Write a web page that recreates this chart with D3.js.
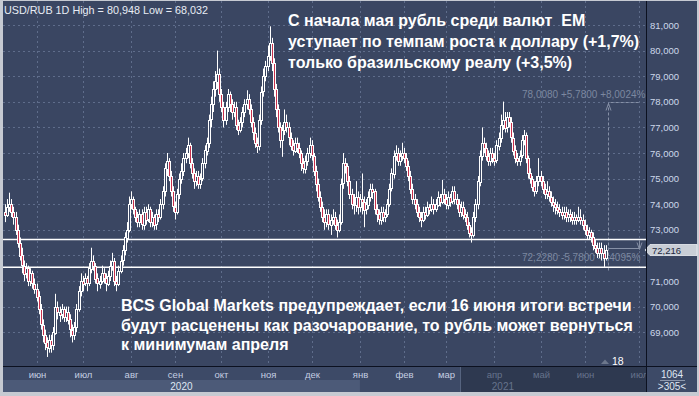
<!DOCTYPE html>
<html>
<head>
<meta charset="utf-8">
<script src="https://cdn.jsdelivr.net/npm/d3@7/dist/d3.min.js"></script>
<style>
  body { margin: 0; background: #c6cad2; }
  svg { display: block; font-family: "Liberation Sans", Arial, sans-serif; }
  text { white-space: pre; }
</style>
</head>
<body>
<div id="chart"></div>
<script>
// дневные бары USD/RUB, первый бар — 11 мая 2020, только будни
var startDate = new Date(2020, 4, 11);

var opens = [73.7,73.6,73.9,74.0,73.7,73.5,73.0,72.5,72.0,71.6,
  71.3,71.5,71.0,71.3,70.9,70.7,70.4,69.9,69.3,68.9,
  68.6,68.4,68.7,68.5,69.0,70.0,69.8,69.7,69.9,69.6,
  69.8,69.5,69.1,68.9,69.2,69.9,70.6,71.0,70.9,71.1,
  70.9,71.5,71.8,71.6,71.1,70.9,71.0,71.3,71.1,70.9,
  71.2,71.6,71.8,71.0,70.9,71.4,71.8,72.2,72.7,73.0,
  74.0,74.2,73.8,73.5,73.3,73.6,73.2,73.7,73.4,73.8,
  73.3,73.5,73.2,73.6,73.5,74.0,74.5,75.4,75.7,75.1,
  74.5,73.9,73.7,74.4,75.0,75.3,75.8,76.0,76.3,75.6,
  75.2,74.9,75.1,74.8,75.0,75.6,76.1,76.4,77.3,77.9,
  78.5,78.8,79.1,78.3,77.8,77.3,77.8,78.3,77.9,77.6,
  77.8,77.1,76.9,77.2,77.6,77.9,78.1,77.7,77.2,76.8,
  76.4,76.3,77.3,78.4,79.0,79.4,79.8,80.3,79.5,78.5,
  77.7,77.0,76.5,76.9,77.2,77.0,76.6,76.3,76.1,76.4,
  76.2,76.0,75.6,75.4,75.7,76.0,76.3,75.9,75.3,74.8,
  74.3,73.9,73.5,73.3,73.6,73.2,73.4,73.5,73.2,73.0,
  73.3,74.8,75.6,75.5,74.9,74.4,74.0,74.0,74.3,73.9,
  74.2,74.1,73.8,74.0,74.3,74.6,74.5,73.8,73.6,73.4,
  73.7,73.5,73.6,74.0,74.6,75.2,75.9,76.0,75.7,75.9,
  76.0,75.8,75.5,75.1,74.6,74.2,74.0,73.7,73.5,73.4,
  73.7,73.6,73.9,73.8,74.0,73.8,74.0,74.3,74.1,74.4,
  74.2,74.0,74.3,74.1,74.5,74.2,74.0,73.7,73.9,73.6,
  73.5,73.2,72.9,72.8,73.5,74.0,74.9,75.9,76.4,76.2,
  75.9,75.7,76.0,75.8,75.7,76.3,76.6,77.1,77.3,77.0,
  77.4,77.2,76.6,76.1,75.8,75.7,75.9,76.5,76.7,75.8,
  75.2,75.0,74.7,74.5,74.9,75.1,74.9,74.6,74.4,74.5,
  74.3,74.1,74.0,73.9,73.8,73.7,73.6,73.7,73.5,73.6,
  73.5,73.4,73.5,73.4,73.5,73.4,73.2,73.0,72.8,72.9,
  72.7,72.4,72.3,72.1,72.3,72.1,71.9];

var highs = [74.0,74.2,74.45,74.2,73.9,73.7,73.2,72.7,72.3,71.8,
  71.7,71.6,71.5,71.4,71.1,70.9,70.6,70.1,69.5,69.1,
  68.8,68.9,68.9,69.2,70.5,70.2,70.0,70.1,70.0,70.0,
  70.0,69.7,69.3,69.4,70.1,70.8,71.3,71.2,71.3,71.2,
  71.7,72.3,72.0,71.7,71.3,71.2,71.6,71.5,71.3,71.4,
  71.8,72.1,71.9,71.2,71.6,72.0,72.4,72.9,73.3,74.3,
  74.5,74.3,73.9,73.7,73.8,73.8,73.9,73.9,74.0,73.9,
  73.7,73.6,73.8,73.8,74.2,74.7,75.6,76.0,75.8,75.3,
  74.7,74.1,74.6,75.2,75.6,76.0,76.2,76.6,76.4,75.8,
  75.4,75.3,75.3,75.2,75.8,76.3,76.6,77.5,78.2,78.8,
  79.2,80.0,79.3,78.5,78.0,78.0,78.5,78.4,78.1,78.0,
  78.0,77.3,77.4,77.8,78.1,78.45,78.3,77.9,77.4,77.0,
  76.6,77.5,78.6,79.3,79.6,80.2,80.948,80.5,79.7,78.7,
  77.9,77.2,77.1,77.7,77.5,77.2,76.8,76.5,76.6,76.6,
  76.4,76.1,75.8,75.9,76.2,76.6,76.5,76.0,75.5,75.0,
  74.5,74.1,73.8,73.8,73.8,73.6,73.8,73.7,73.4,73.6,
  75.0,76.0,75.8,75.6,75.1,74.6,74.4,74.9,74.5,74.4,
  75.2,74.3,74.2,74.5,74.8,74.8,74.6,74.0,73.8,73.9,
  73.9,73.8,74.2,74.8,75.4,76.1,76.3,76.2,76.1,76.4,
  76.2,76.0,75.7,75.3,74.8,74.4,74.2,73.9,73.7,73.9,
  73.9,74.1,74.0,74.3,74.2,74.2,74.5,74.4,74.95,74.6,
  74.4,74.5,74.4,74.7,74.7,74.4,74.2,74.1,74.1,73.8,
  73.7,73.3,73.1,73.7,74.2,75.1,76.1,77.0,76.6,76.4,
  76.1,76.2,76.2,76.0,76.5,76.8,77.5,78.008,77.6,77.6,
  77.6,77.4,76.8,76.3,76.0,76.1,76.7,76.9,76.8,75.9,
  75.4,75.1,74.9,75.1,75.8,75.3,75.1,74.8,74.9,74.7,
  74.5,74.3,74.2,74.1,74.0,73.9,73.9,73.9,73.8,73.8,
  73.7,73.7,73.6,73.9,73.8,73.6,73.4,73.2,73.1,73.0,
  72.9,72.6,72.5,72.5,72.5,72.4,72.4];

var lows = [73.3,73.5,73.7,73.5,73.2,72.8,72.3,71.8,71.3,71.0,
  71.1,70.8,70.8,70.7,70.5,70.2,69.7,69.1,68.6,68.3,
  68.032,68.2,68.2,68.3,68.9,69.5,69.4,69.5,69.4,69.4,
  69.3,68.8,68.6,68.7,69.0,69.8,70.4,70.6,70.8,70.6,
  70.8,71.3,71.4,70.9,70.6,70.7,70.9,70.9,70.6,70.8,
  71.0,71.4,70.8,70.6,70.8,71.3,71.6,72.0,72.5,72.9,
  73.8,73.6,73.3,73.1,73.1,73.0,73.0,73.2,73.3,73.1,
  73.1,73.0,73.0,73.3,73.4,73.8,74.3,75.1,74.9,74.3,
  73.7,73.4,73.6,74.2,74.8,75.1,75.6,75.8,75.4,75.0,
  74.6,74.7,74.6,74.6,74.9,75.4,75.9,76.2,77.0,77.6,
  78.2,78.5,78.0,77.6,77.0,77.1,77.6,77.6,77.3,77.4,
  76.9,76.7,76.8,77.0,77.4,77.7,77.5,77.0,76.5,76.2,
  76.0,76.1,77.1,78.2,78.8,79.2,79.6,79.2,78.2,77.4,
  76.8,76.2,75.85,76.7,76.8,76.3,76.1,75.9,76.0,76.0,
  75.8,75.3,75.2,75.2,75.5,75.8,75.7,75.1,74.5,74.1,
  73.7,73.3,73.0,73.1,73.0,72.8,73.2,73.0,72.7,72.9,
  73.2,74.6,75.2,74.7,74.2,73.8,73.6,73.7,73.6,73.7,
  73.6,73.1,73.6,73.8,74.1,74.2,73.6,73.3,73.2,73.2,
  73.3,73.3,73.5,73.9,74.5,75.0,75.7,75.5,75.5,75.7,
  75.6,75.3,74.9,74.4,74.0,73.8,73.5,73.3,73.1,73.3,
  73.4,73.5,73.6,73.7,73.6,73.7,73.9,73.9,74.0,74.0,
  73.8,73.8,73.9,74.0,74.0,73.8,73.5,73.5,73.4,73.3,
  73.0,72.7,72.5,72.7,73.3,73.8,74.7,75.7,76.0,75.7,
  75.5,75.5,75.6,75.5,75.6,76.1,76.4,76.9,76.8,76.8,
  77.0,76.4,75.9,75.6,75.5,75.5,75.8,76.3,75.6,75.0,
  74.8,74.5,74.3,74.4,74.7,74.7,74.4,74.2,74.2,74.1,
  73.9,73.7,73.6,73.6,73.5,73.4,73.4,73.3,73.3,73.3,
  73.2,73.2,73.2,73.3,73.2,73.0,72.8,72.6,72.6,72.5,
  72.2,72.1,71.9,71.9,71.8,71.55,71.8];

var closes = [73.6,73.9,74.0,73.7,73.5,73.0,72.5,72.0,71.6,71.3,
  71.5,71.0,71.3,70.9,70.7,70.4,69.9,69.3,68.9,68.6,
  68.4,68.7,68.5,69.0,70.0,69.8,69.7,69.9,69.6,69.8,
  69.5,69.1,68.9,69.2,69.9,70.6,71.0,70.9,71.1,70.9,
  71.5,71.8,71.6,71.1,70.9,71.0,71.3,71.1,70.9,71.2,
  71.6,71.8,71.0,70.9,71.4,71.8,72.2,72.7,73.0,74.0,
  74.2,73.8,73.5,73.3,73.6,73.2,73.7,73.4,73.8,73.3,
  73.5,73.2,73.6,73.5,74.0,74.5,75.4,75.7,75.1,74.5,
  73.9,73.7,74.4,75.0,75.3,75.8,76.0,76.3,75.6,75.2,
  74.9,75.1,74.8,75.0,75.6,76.1,76.4,77.3,77.9,78.5,
  78.8,79.1,78.3,77.8,77.3,77.8,78.3,77.9,77.6,77.8,
  77.1,76.9,77.2,77.6,77.9,78.1,77.7,77.2,76.8,76.4,
  76.3,77.3,78.4,79.0,79.4,79.8,80.3,79.5,78.5,77.7,
  77.0,76.5,76.9,77.2,77.0,76.6,76.3,76.1,76.4,76.2,
  76.0,75.6,75.4,75.7,76.0,76.3,75.9,75.3,74.8,74.3,
  73.9,73.5,73.3,73.6,73.2,73.4,73.5,73.2,73.0,73.3,
  74.8,75.6,75.5,74.9,74.4,74.0,74.0,74.3,73.9,74.2,
  74.1,73.8,74.0,74.3,74.6,74.5,73.8,73.6,73.4,73.7,
  73.5,73.6,74.0,74.6,75.2,75.9,76.0,75.7,75.9,76.0,
  75.8,75.5,75.1,74.6,74.2,74.0,73.7,73.5,73.4,73.7,
  73.6,73.9,73.8,74.0,73.8,74.0,74.3,74.1,74.4,74.2,
  74.0,74.3,74.1,74.5,74.2,74.0,73.7,73.9,73.6,73.5,
  73.2,72.9,72.8,73.5,74.0,74.9,75.9,76.4,76.2,75.9,
  75.7,76.0,75.8,75.7,76.3,76.6,77.1,77.3,77.0,77.4,
  77.2,76.6,76.1,75.8,75.7,75.9,76.5,76.7,75.8,75.2,
  75.0,74.7,74.5,74.9,75.1,74.9,74.6,74.4,74.5,74.3,
  74.1,74.0,73.9,73.8,73.7,73.6,73.7,73.5,73.6,73.5,
  73.4,73.5,73.4,73.5,73.4,73.2,73.0,72.8,72.9,72.7,
  72.4,72.3,72.1,72.3,72.1,71.9,72.216];

var yTicks = [69, 70, 71, 72, 73, 74, 75, 76, 77, 78, 79, 80, 81];
var monthNames = ['янв','фев','мар','апр','май','июн','июл','авг','сен','окт','ноя','дек'];
var monthStarts = ['2020-06-01','2020-07-01','2020-08-01','2020-09-01','2020-10-01','2020-11-01','2020-12-01',
  '2021-01-01','2021-02-01','2021-03-01','2021-04-01','2021-05-01','2021-06-01','2021-07-01'];
var yearLabels = ['2020', '2021'];
var supportLevels = [72.62, 71.54];
var measure = { high: 78.008, low: 72.228 };
var measureTexts = ['78,0080 +5,7800 +8,0024%', '72,2280 -5,7800 -7,4095%'];
var lastPrice = 72.216;
var titleText = 'USD/RUB 1D High = 80,948 Low = 68,032';
var topNote = ['С начала мая рубль среди валют  EM', 'уступает по темпам роста к доллару (+1,7%)', 'только бразильскому реалу (+3,5%)'];
var bottomNote = ['BCS Global Markets предупреждает, если 16 июня итоги встречи', 'будут расценены как разочарование, то рубль может вернуться', 'к минимумам апреля'];

var W = 699, H = 396;
var plotL = 3, plotT = 1, plotR = 646, plotB = 366;
var bg = '#3a4662';

// даты баров (будни)
var dates = [];
var dd = new Date(startDate);
while (dates.length < closes.length) {
  if (dd.getDay() % 6 !== 0) dates.push(new Date(dd));
  dd.setDate(dd.getDate() + 1);
}
var lastIdx = dates.length - 1;
function barIndex(date) {
  if (date > dates[lastIdx]) return lastIdx + d3.timeDay.count(dates[lastIdx], date);
  return d3.bisectLeft(dates, date);
}

var x = d3.scaleLinear().domain([0, 305]).range([5, 645.5]);
var y = d3.scaleLinear().domain([72, 81]).range([255.4, 25]);
var fmt = function (v) { return d3.format('.3f')(v).replace('.', ','); };

var svg = d3.select('#chart').append('svg')
  .attr('width', W)
  .attr('height', H);

svg.append('rect').attr('width', W).attr('height', H).attr('fill', '#c6cad2');
svg.append('rect').attr('x', 3).attr('y', 1).attr('width', 694).attr('height', 391).attr('fill', bg);

svg.append('clipPath').attr('id', 'clip')
  .append('rect').attr('x', plotL).attr('y', plotT).attr('width', plotR - plotL).attr('height', plotB - plotT);

var plot = svg.append('g').attr('clip-path', 'url(#clip)');

// сетка
plot.selectAll('line.hgrid')
  .data(yTicks)
  .enter()
  .append('line')
  .attr('x1', plotL).attr('x2', plotR)
  .attr('y1', function (d) { return Math.round(y(d)) + 0.5; })
  .attr('y2', function (d) { return Math.round(y(d)) + 0.5; })
  .attr('stroke', '#5f6d8b')
  .attr('stroke-dasharray', '2,3');

var months = monthStarts.map(function (s) {
  var p = s.split('-');
  var dt = new Date(+p[0], +p[1] - 1, 1);
  return { date: dt, name: monthNames[dt.getMonth()], px: Math.round(x(barIndex(dt))) + 0.5 };
});

plot.selectAll('line.vgrid')
  .data(months)
  .enter()
  .append('line')
  .attr('x1', function (d) { return d.px; }).attr('x2', function (d) { return d.px; })
  .attr('y1', plotT).attr('y2', plotB)
  .attr('stroke', '#5f6d8b')
  .attr('stroke-dasharray', '2,3');

// измерение
var mx1 = Math.round(x(lastIdx + 1)) + 0.5, mx2 = Math.round(x(lastIdx + 16)) + 0.5;
var mTop = Math.round(y(measure.high)) + 0.5, mBot = Math.round(y(measure.low)) + 0.5;
plot.append('path')
  .attr('d', 'M' + mx1 + ',' + (mBot + 20) + 'V' + mTop + 'H' + mx2)
  .attr('fill', 'none').attr('stroke', '#8690a6').attr('stroke-dasharray', '3,2');
plot.append('path')
  .attr('d', 'M' + (mx1 - 2.5) + ',' + (mTop + 8) + 'L' + mx1 + ',' + (mTop + 1) + 'L' + (mx1 + 2.5) + ',' + (mTop + 8))
  .attr('fill', 'none').attr('stroke', '#8690a6');
plot.append('path')
  .attr('d', 'M' + mx1 + ',' + (mBot - 2) + 'H' + mx2 + 'V' + (y(supportLevels[0]) + 1))
  .attr('fill', 'none').attr('stroke', '#8690a6');
plot.append('path')
  .attr('d', 'M' + (mx2 - 2.5) + ',' + (y(supportLevels[0]) + 3) + 'L' + mx2 + ',' + (y(supportLevels[0]) + 10) + 'L' + (mx2 + 2.5) + ',' + (y(supportLevels[0]) + 3))
  .attr('fill', 'none').attr('stroke', '#8690a6');
plot.selectAll('text.measure')
  .data(measureTexts)
  .enter()
  .append('text')
  .attr('x', 522)
  .attr('y', function (d, i) { return i === 0 ? mTop - 5 : mBot + 10; })
  .attr('font-size', 10)
  .attr('fill', '#7c88a0')
  .text(function (d) { return d; });

// уровни
plot.selectAll('line.level')
  .data(supportLevels)
  .enter()
  .append('line')
  .attr('x1', plotL).attr('x2', plotR)
  .attr('y1', function (d) { return y(d); })
  .attr('y2', function (d) { return y(d); })
  .attr('stroke', '#ffffff')
  .attr('stroke-width', 1.5);

// свечи
var bars = closes.map(function (c, i) {
  return { i: i, o: opens[i], h: highs[i], l: lows[i], c: c };
});
var candle = plot.selectAll('g.candle')
  .data(bars)
  .enter()
  .append('g');
candle.append('line')
  .attr('x1', function (d) { return Math.round(x(d.i)) + 0.5; })
  .attr('x2', function (d) { return Math.round(x(d.i)) + 0.5; })
  .attr('y1', function (d) { return y(d.h); })
  .attr('y2', function (d) { return y(d.l); })
  .attr('stroke', '#ffffff');
candle.append('rect')
  .attr('x', function (d) { return Math.round(x(d.i)) - 0.5; })
  .attr('width', 2)
  .attr('y', function (d) { return Math.round(y(Math.max(d.o, d.c))) + 0.5; })
  .attr('height', function (d) { return Math.max(1, Math.round(Math.abs(y(d.o) - y(d.c)))); })
  .attr('fill', function (d) { return d.c < d.o ? '#c8304c' : bg; })
  .attr('stroke', '#ffffff')
  .attr('stroke-width', 1);

// заметки
plot.append('text')
  .attr('x', 4).attr('y', 13.5)
  .attr('font-size', 10.8)
  .attr('fill', '#e8ecf4')
  .text(titleText);

plot.selectAll('text.top')
  .data(topNote)
  .enter()
  .append('text')
  .attr('x', 288)
  .attr('y', function (d, i) { return 26 + i * 21; })
  .attr('font-size', 16).attr('font-weight', 'bold')
  .attr('fill', '#ffffff')
  .text(function (d) { return d; });

plot.selectAll('text.bottom')
  .data(bottomNote)
  .enter()
  .append('text')
  .attr('x', 121)
  .attr('y', function (d, i) { return 311 + i * 19.5; })
  .attr('font-size', 16).attr('font-weight', 'bold')
  .attr('fill', '#ffffff')
  .text(function (d) { return d; });

plot.append('path')
  .attr('d', 'M601,364L605,359.5L609,364Z')
  .attr('fill', '#6c778c');
plot.append('text')
  .attr('x', 612).attr('y', 364.5)
  .attr('font-size', 10.5)
  .attr('fill', '#ffffff')
  .text('18');

// ось цены (метка 72,000 спрятана под ярлыком последней цены, как в оригинале)
var py = Math.round(y(lastPrice));
svg.selectAll('text.ylab')
  .data(yTicks.filter(function (d) { return Math.abs(y(d) - py) > 8; }))
  .enter()
  .append('text')
  .attr('x', 650)
  .attr('y', function (d) { return y(d) + 3.5; })
  .attr('font-size', 9.5)
  .attr('fill', '#cdd8ea')
  .text(fmt);

svg.append('path')
  .attr('d', 'M645,' + py + 'L650,' + (py - 5.5) + 'H697V' + (py + 5.5) + 'H650Z')
  .attr('fill', '#c9ced6')
  .attr('stroke', '#eef0f4')
  .attr('stroke-width', 0.8);
svg.append('text')
  .attr('x', 652).attr('y', py + 3.5)
  .attr('font-size', 9.5)
  .attr('fill', '#1c2840')
  .text(fmt(lastPrice));

// ось времени
var axisG = svg.append('g');
axisG.append('rect').attr('x', plotL).attr('y', plotB).attr('width', 694).attr('height', 26).attr('fill', '#3d4a67');
axisG.append('rect').attr('x', plotL).attr('y', 380).attr('width', x(barIndex(new Date(2021, 0, 1))) - plotL).attr('height', 12).attr('fill', '#4c5a78');
axisG.append('rect').attr('x', 460).attr('y', plotB).attr('width', plotR - 460).attr('height', 26).attr('fill', '#2e3950');
axisG.append('line').attr('x1', 460.5).attr('x2', 460.5).attr('y1', plotB).attr('y2', 392).attr('stroke', '#56647f');

svg.append('clipPath').attr('id', 'aclip')
  .append('rect').attr('x', plotL).attr('y', plotB).attr('width', plotR - plotL).attr('height', 26);
var labels = axisG.append('g').attr('clip-path', 'url(#aclip)');
labels.selectAll('text.month')
  .data(months)
  .enter()
  .append('text')
  .attr('x', function (d) { return d.px; })
  .attr('y', 378)
  .attr('text-anchor', 'middle')
  .attr('font-size', 9.5)
  .attr('fill', function (d) { return d.px < 460 ? '#c4cee2' : '#66738c'; })
  .text(function (d) { return d.name; });

var yearBounds = [x(0) - 2, x(barIndex(new Date(2021, 0, 1))), plotR];
labels.selectAll('text.year')
  .data(yearLabels)
  .enter()
  .append('text')
  .attr('x', function (d, i) { return (yearBounds[i] + yearBounds[i + 1]) / 2; })
  .attr('y', 390)
  .attr('text-anchor', 'middle')
  .attr('font-size', 10)
  .attr('fill', function (d, i) { return i === 0 ? '#dfe6f2' : '#66738c'; })
  .text(function (d) { return d; });

// правый нижний блок
svg.append('rect').attr('x', plotR).attr('y', plotB).attr('width', 51).attr('height', 26).attr('fill', '#3d4a67');
svg.append('text').attr('x', 672).attr('y', 377.5).attr('text-anchor', 'middle')
  .attr('font-size', 10).attr('fill', '#dfe6f2').text('1064');
svg.append('line').attr('x1', 660).attr('x2', 685).attr('y1', 380.5).attr('y2', 380.5).attr('stroke', '#8d98ad');
svg.append('text').attr('x', 672).attr('y', 389.5).attr('text-anchor', 'middle')
  .attr('font-size', 10).attr('fill', '#dfe6f2').text('>305<');

// разделители
svg.append('line').attr('x1', plotL).attr('x2', 697).attr('y1', plotB + 0.5).attr('y2', plotB + 0.5).attr('stroke', '#0c1120');
svg.append('line').attr('x1', plotR + 0.5).attr('x2', plotR + 0.5).attr('y1', 1).attr('y2', 392).attr('stroke', '#0c1120');
</script>
</body>
</html>
